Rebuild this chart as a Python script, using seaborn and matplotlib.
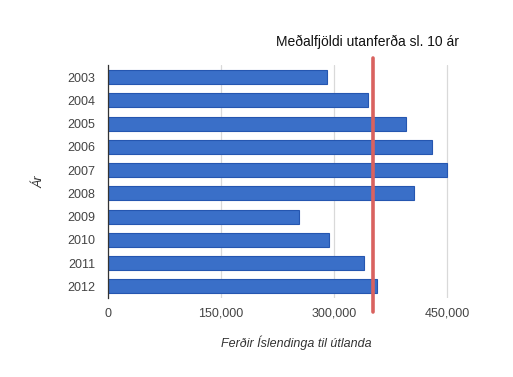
import matplotlib
matplotlib.use("Agg")
import matplotlib.pyplot as plt
import seaborn as sns
import pandas as pd

sns.set_theme(style="white")
plt.rcParams["font.family"] = ["Liberation Sans", "DejaVu Sans"]

years = ["2003", "2004", "2005", "2006", "2007", "2008", "2009", "2010", "2011", "2012"]
trips = [291000, 345000, 395000, 430500, 450000, 406000, 253300, 292700, 339700, 357000]
avg_trips = 352000
avg_label = "Meðalfjöldi utanferða sl. 10 ár"
xticks = [0, 150000, 300000, 450000]

df = pd.DataFrame({"year": years, "trips": trips})

fig = plt.figure(figsize=(5.13, 3.77), dpi=100)
ax = fig.add_axes([0.2105, 0.2095, 0.7345, 0.617])

sns.barplot(data=df, x="trips", y="year", orient="h", color="#3a6fc8",
            edgecolor="#2556b0", linewidth=0.8, width=0.6, saturation=1, ax=ax)

ax.set_xlim(0, 500000)
ax.set_xticks(xticks)
ax.set_xticklabels([f"{v:,}" for v in xticks])
ax.xaxis.grid(True, color="#d9d9d9", linewidth=0.9)
ax.set_axisbelow(True)
for s in ["top", "right", "bottom"]:
    ax.spines[s].set_visible(False)
ax.spines["left"].set_color("#333333")
ax.spines["left"].set_linewidth(0.9)
ax.tick_params(axis="both", length=0, labelsize=9, colors="#444444")
ax.tick_params(axis="x", pad=7)
ax.tick_params(axis="y", pad=9)

# average line, running past the plot area
ax.axvline(avg_trips, ymin=-0.06, ymax=1.03, color="#d9625f", linewidth=2.6, clip_on=False)
ax.annotate(avg_label, xy=(avg_trips, 1.1), xycoords=ax.get_xaxis_transform(),
            xytext=(-4, 0), textcoords="offset points",
            ha="center", va="center", fontsize=10, color="#111111")

ax.set_xlabel("Ferðir Íslendinga til útlanda", fontsize=9, style="italic",
              color="#333333", labelpad=11)
ax.set_ylabel("Ár", fontsize=9, style="italic", color="#333333", labelpad=16)

fig.savefig("out.png", dpi=100)
